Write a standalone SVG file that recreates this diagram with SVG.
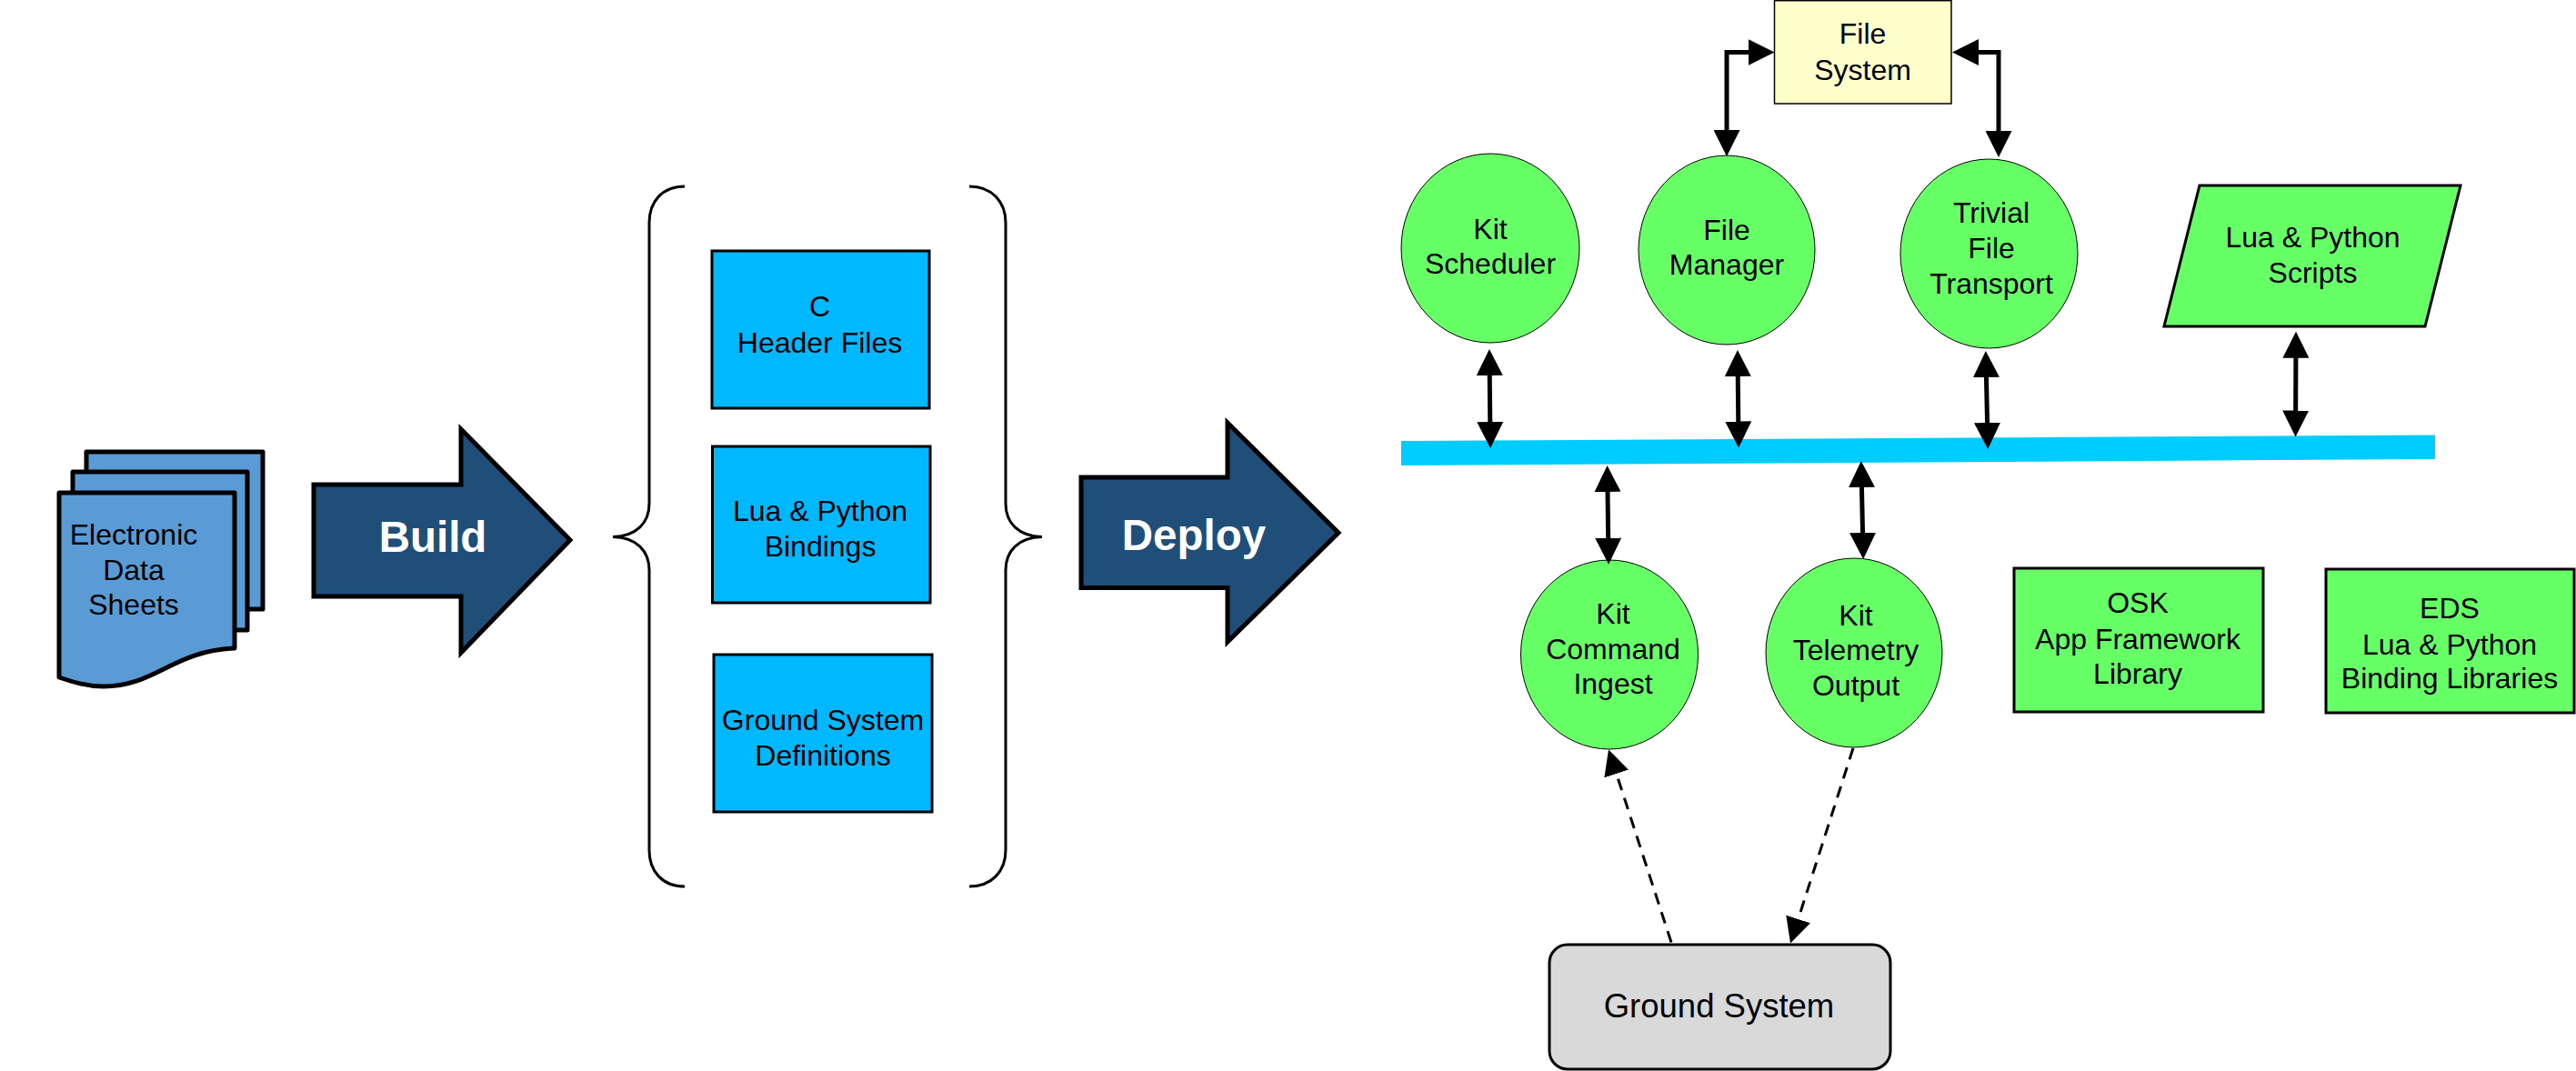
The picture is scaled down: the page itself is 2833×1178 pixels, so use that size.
<svg xmlns="http://www.w3.org/2000/svg" width="2833" height="1178" viewBox="0 0 2833 1178">
<style>
text{font-family:"Liberation Sans",Arial,sans-serif;font-size:32px;fill:#000;text-anchor:middle}
.big{font-size:47.500px;font-weight:bold;fill:#fff}
.page{fill:#5B9BD5;stroke:#000;stroke-width:5;stroke-linejoin:round}
.block{fill:#1F4E79;stroke:#000;stroke-width:5;stroke-linejoin:miter}
.brace{fill:none;stroke:#000;stroke-width:3}
.cyan{fill:#00B8FF;stroke:#000;stroke-width:3}
.oval{fill:#66FF66;stroke:#000;stroke-width:1}
.lib{fill:#66FF66;stroke:#000;stroke-width:3}
.link{fill:none;stroke:#000;stroke-width:5;marker-start:url(#head);marker-end:url(#head)}
.dash{fill:none;stroke:#000;stroke-width:3;stroke-dasharray:13 9;marker-end:url(#dhead)}
</style>
<defs>
<marker id="head" viewBox="0 0 29 29" refX="21" refY="14.500" markerWidth="29" markerHeight="29" markerUnits="userSpaceOnUse" orient="auto-start-reverse"><path d="M0 0L29 14.500L0 29Z" fill="#000"/></marker>
<marker id="dhead" viewBox="0 0 28 28" refX="20" refY="14" markerWidth="28" markerHeight="28" markerUnits="userSpaceOnUse" orient="auto"><path d="M0 0L28 14L0 28Z" fill="#000"/></marker>
</defs>

<g id="data-sheets">
<path class="page" d="M95 497H289V670H95Z"/>
<path class="page" d="M80 519H272V693H80Z"/>
<path class="page" d="M65 542H258V713C190 716 170 755 114 755C95 755 80 750 65 745Z"/>
<text x="147" y="599">Electronic</text>
<text x="147" y="638">Data</text>
<text x="147" y="676">Sheets</text>
</g>

<g id="build-arrow">
<path class="block" d="M345 533H507V472L627 594L507 718V656H345Z"/>
<text class="big" x="476" y="607">Build</text>
</g>

<g id="left-brace"><path class="brace" d="M753 205C728 205 714 222 714 245V554C714 575 700 590 674 590.500C700 591 714 606 714 627V935C714 958 728 975 753 975"/></g>
<g id="right-brace"><path class="brace" d="M1066 205C1091 205 1106 222 1106 245V554C1106 575 1120 590 1146 590.500C1120 591 1106 606 1106 627V935C1106 958 1091 975 1066 975"/></g>

<g id="c-headers">
<rect class="cyan" x="783" y="276" width="239" height="173"/>
<text x="901.500" y="348">C</text>
<text x="901.500" y="388">Header Files</text>
</g>
<g id="lua-bindings">
<rect class="cyan" x="783.500" y="491" width="239.500" height="172"/>
<text x="902" y="573">Lua &amp; Python</text>
<text x="902" y="612">Bindings</text>
</g>
<g id="ground-defs">
<rect class="cyan" x="785" y="720" width="240" height="173"/>
<text x="905" y="803">Ground System</text>
<text x="905" y="842">Definitions</text>
</g>

<g id="deploy-arrow">
<path class="block" d="M1189 525H1350V465L1472 586L1350 706V646.500H1189Z"/>
<text class="big" x="1313" y="605">Deploy</text>
</g>

<g id="software-bus"><path fill="#00CCFF" d="M1541 485L2678 478.500V505L1541 512Z"/></g>

<g id="file-system">
<rect x="1951.500" y="0.700" width="194.500" height="113.300" fill="#FFFFCC" stroke="#000" stroke-width="1.500"/>
<text x="2048.500" y="48">File</text>
<text x="2048.500" y="88">System</text>
</g>
<g id="kit-scheduler">
<ellipse class="oval" cx="1639" cy="273" rx="98" ry="104"/>
<text x="1639" y="263">Kit</text>
<text x="1639" y="301">Scheduler</text>
</g>
<g id="file-manager">
<ellipse class="oval" cx="1899" cy="275" rx="97" ry="104"/>
<text x="1899" y="263.500">File</text>
<text x="1899" y="302">Manager</text>
</g>
<g id="trivial-file-transport">
<ellipse class="oval" cx="2187.500" cy="279" rx="97.500" ry="104"/>
<text x="2190" y="245">Trivial</text>
<text x="2190" y="284">File</text>
<text x="2190" y="322.700">Transport</text>
</g>
<g id="lua-scripts">
<path fill="#66FF66" stroke="#000" stroke-width="3" d="M2419 204H2706L2667 359H2380Z"/>
<text x="2543.500" y="272">Lua &amp; Python</text>
<text x="2543.500" y="310.500">Scripts</text>
</g>
<g id="kit-command-ingest">
<ellipse class="oval" cx="1770" cy="720" rx="97.500" ry="104"/>
<text x="1774" y="686">Kit</text>
<text x="1774" y="725">Command</text>
<text x="1774" y="763">Ingest</text>
</g>
<g id="kit-telemetry-output">
<ellipse class="oval" cx="2039" cy="718" rx="97" ry="104"/>
<text x="2041" y="687.500">Kit</text>
<text x="2041" y="726">Telemetry</text>
<text x="2041" y="764.500">Output</text>
</g>
<g id="osk-library">
<rect class="lib" x="2215" y="625" width="274" height="158"/>
<text x="2351" y="674">OSK</text>
<text x="2351" y="714">App Framework</text>
<text x="2351" y="752">Library</text>
</g>
<g id="eds-library">
<rect class="lib" x="2558" y="626" width="273" height="158"/>
<text x="2694" y="680">EDS</text>
<text x="2694" y="720">Lua &amp; Python</text>
<text x="2694" y="757">Binding Libraries</text>
</g>
<g id="ground-system">
<rect x="1704" y="1039" width="375" height="137" rx="20" fill="#D9D9D9" stroke="#000" stroke-width="3"/>
<text x="1890.500" y="1119" style="font-size:36.500px">Ground System</text>
</g>

<g id="connectors">
<path class="link" d="M1943.500 57.500H1899V164"/>
<path class="link" d="M2155 57.500H2198V165"/>
<path class="link" d="M1638 392L1639 485"/>
<path class="link" d="M1911 393L1912 484.500"/>
<path class="link" d="M2184 394L2186 486"/>
<path class="link" d="M2525 372.700L2524.600 472.500"/>
<path class="link" d="M1767.700 520L1769 612.700"/>
<path class="link" d="M2047 515L2049 607"/>
<path class="dash" d="M1838 1036.500L1771.500 832"/>
<path class="dash" d="M2038 823L1971.500 1030"/>
</g>
</svg>
